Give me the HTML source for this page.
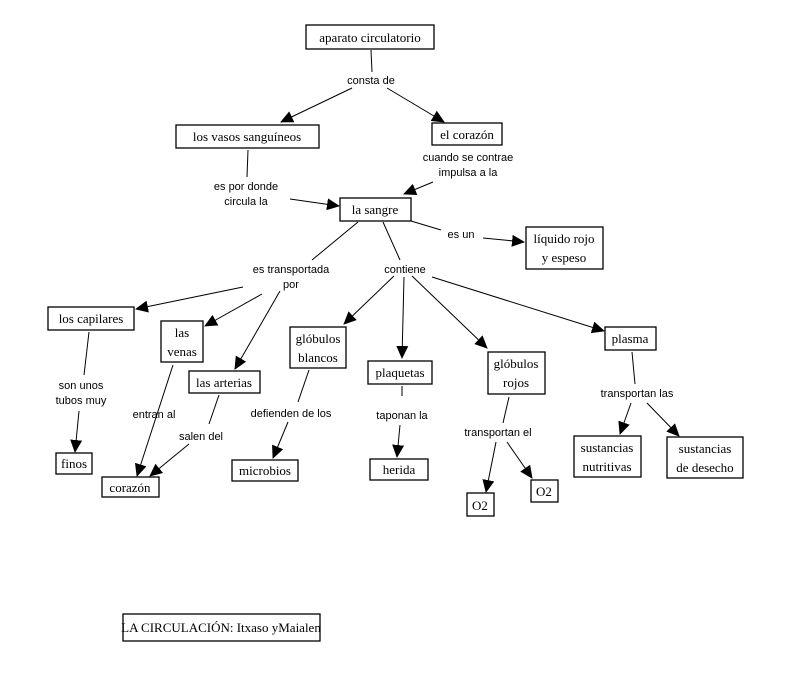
<!DOCTYPE html>
<html><head><meta charset="utf-8"><style>
html,body{margin:0;padding:0;background:#fff;}
svg{display:block;}
.b{fill:#fff;stroke:#000;stroke-width:1.3;}
.t{font-family:"Liberation Serif",serif;font-size:13px;fill:#000;text-anchor:middle;}
.l{font-family:"Liberation Sans",sans-serif;font-size:11px;fill:#000;text-anchor:middle;}
line{stroke:#000;stroke-width:1;}
.a{marker-end:url(#ar);}
</style></head><body>
<svg width="786" height="682" viewBox="0 0 786 682" xmlns="http://www.w3.org/2000/svg">
<defs><marker id="ar" markerWidth="14" markerHeight="12" refX="12" refY="6" orient="auto" markerUnits="userSpaceOnUse"><path d="M0,0 L13,6 L0,12 Z" fill="#000"/></marker></defs>

<!-- lines -->
<line x1="371" y1="50" x2="372" y2="72"/>
<line class="a" x1="352" y1="88" x2="281" y2="122"/>
<line class="a" x1="387" y1="88" x2="444" y2="122"/>
<line x1="248" y1="150" x2="247" y2="177"/>
<line class="a" x1="290" y1="199" x2="339" y2="206"/>
<line class="a" x1="433" y1="182" x2="404" y2="194"/>
<line x1="411" y1="221" x2="441" y2="230"/>
<line class="a" x1="483" y1="238" x2="524" y2="242"/>
<line x1="358" y1="222" x2="312" y2="260"/>
<line x1="383" y1="222" x2="400" y2="260"/>
<line class="a" x1="243" y1="287" x2="136" y2="309"/>
<line class="a" x1="262" y1="294" x2="205" y2="326"/>
<line class="a" x1="280" y1="291" x2="235" y2="369"/>
<line class="a" x1="394" y1="276" x2="344" y2="324"/>
<line class="a" x1="404" y1="277" x2="402" y2="358"/>
<line class="a" x1="412" y1="276" x2="487" y2="348"/>
<line class="a" x1="432" y1="277" x2="604" y2="331"/>
<line x1="89" y1="332" x2="84" y2="375"/>
<line class="a" x1="79" y1="411" x2="75" y2="452"/>
<line class="a" x1="173" y1="365" x2="137" y2="476"/>
<line x1="219" y1="395" x2="209" y2="424"/>
<line class="a" x1="189" y1="444" x2="150" y2="476"/>
<line x1="309" y1="370" x2="298" y2="402"/>
<line class="a" x1="288" y1="422" x2="273" y2="458"/>
<line x1="402" y1="386" x2="402" y2="396"/>
<line class="a" x1="400" y1="425" x2="397" y2="457"/>
<line x1="509" y1="397" x2="503" y2="423"/>
<line class="a" x1="496" y1="442" x2="486" y2="492"/>
<line class="a" x1="507" y1="442" x2="532" y2="478"/>
<line x1="632" y1="352" x2="635" y2="384"/>
<line class="a" x1="631" y1="403" x2="620" y2="434"/>
<line class="a" x1="647" y1="403" x2="679" y2="436"/>

<!-- boxes -->
<rect class="b" x="306" y="25" width="128" height="24"/><text class="t" x="370" y="42">aparato  circulatorio</text>
<rect class="b" x="176" y="125" width="143" height="23"/><text class="t" x="247" y="141">los   vasos  sanguíneos</text>
<rect class="b" x="432" y="123" width="70" height="22"/><text class="t" x="467" y="139">el corazón</text>
<rect class="b" x="340" y="198" width="71" height="23"/><text class="t" x="375" y="214">la  sangre</text>
<rect class="b" x="526" y="227" width="77" height="42"/><text class="t" x="564" y="243">líquido  rojo</text><text class="t" x="564" y="262">y  espeso</text>
<rect class="b" x="48" y="307" width="86" height="23"/><text class="t" x="91" y="323">los  capilares</text>
<rect class="b" x="161" y="321" width="42" height="41"/><text class="t" x="182" y="337">las</text><text class="t" x="182" y="356">venas</text>
<rect class="b" x="189" y="371" width="71" height="22"/><text class="t" x="224" y="387">las arterias</text>
<rect class="b" x="290" y="327" width="56" height="41"/><text class="t" x="318" y="343">glóbulos</text><text class="t" x="318" y="362">blancos</text>
<rect class="b" x="368" y="361" width="64" height="23"/><text class="t" x="400" y="377">plaquetas</text>
<rect class="b" x="488" y="352" width="57" height="42"/><text class="t" x="516" y="368">glóbulos</text><text class="t" x="516" y="387">rojos</text>
<rect class="b" x="605" y="327" width="51" height="23"/><text class="t" x="630" y="343">plasma</text>
<rect class="b" x="56" y="453" width="36" height="21"/><text class="t" x="74" y="468">finos</text>
<rect class="b" x="102" y="477" width="57" height="20"/><text class="t" x="130" y="492">corazón</text>
<rect class="b" x="232" y="460" width="66" height="21"/><text class="t" x="265" y="475">microbios</text>
<rect class="b" x="370" y="459" width="58" height="21"/><text class="t" x="399" y="474">herida</text>
<rect class="b" x="467" y="493" width="27" height="23"/><text class="t" x="480" y="510">O2</text>
<rect class="b" x="531" y="480" width="27" height="22"/><text class="t" x="544" y="496">O2</text>
<rect class="b" x="574" y="436" width="67" height="41"/><text class="t" x="607" y="452">sustancias</text><text class="t" x="607" y="471">nutritivas</text>
<rect class="b" x="667" y="437" width="76" height="41"/><text class="t" x="705" y="453">sustancias</text><text class="t" x="705" y="472">de desecho</text>
<rect class="b" x="123" y="614" width="197" height="27"/><text class="t" x="221" y="632" font-size="14">LA  CIRCULACIÓN: Itxaso yMaialen</text>

<!-- labels -->
<text class="l" x="371" y="84">consta de</text>
<text class="l" x="468" y="161">cuando se contrae</text>
<text class="l" x="468" y="176">impulsa a la</text>
<text class="l" x="246" y="190">es  por  donde</text>
<text class="l" x="246" y="205">circula  la</text>
<text class="l" x="461" y="238">es  un</text>
<text class="l" x="291" y="273">es  transportada</text>
<text class="l" x="291" y="288">por</text>
<text class="l" x="405" y="273">contiene</text>
<text class="l" x="81" y="389">son unos</text>
<text class="l" x="81" y="404">tubos muy</text>
<text class="l" x="154" y="418">entran  al</text>
<text class="l" x="201" y="440">salen del</text>
<text class="l" x="291" y="417">defienden  de  los</text>
<text class="l" x="402" y="419">taponan  la</text>
<text class="l" x="498" y="436">transportan  el</text>
<text class="l" x="637" y="397">transportan  las</text>
</svg>
</body></html>
